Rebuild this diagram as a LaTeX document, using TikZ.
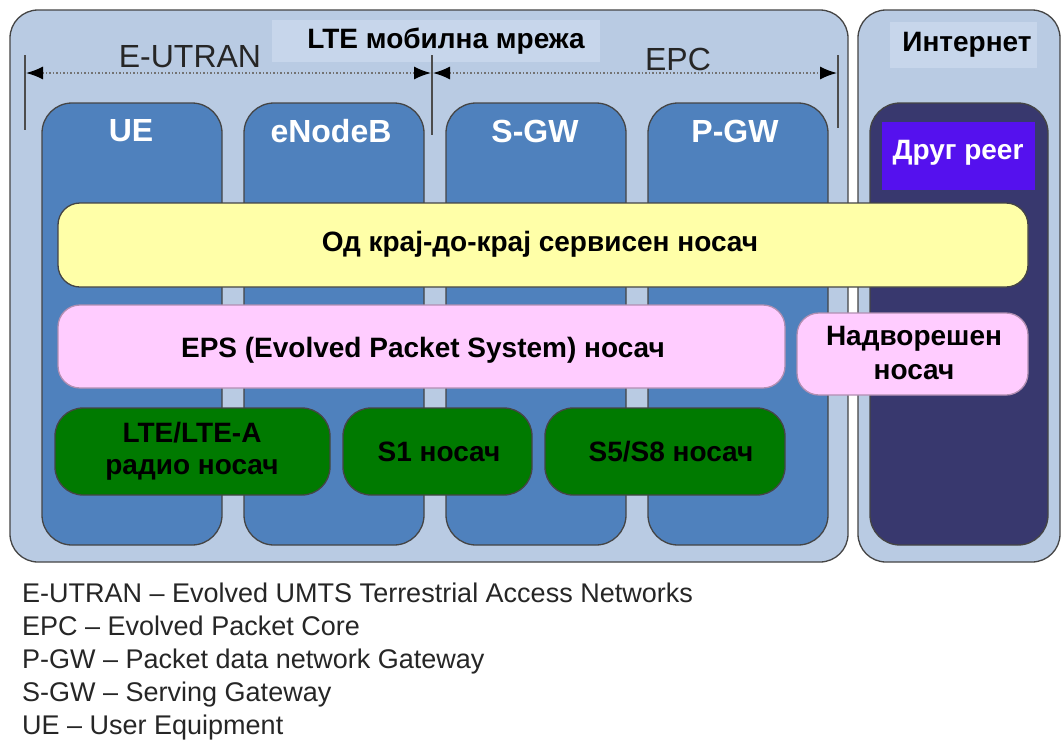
\documentclass[tikz,border=0pt]{standalone}
\usepackage{fontspec}
\setmainfont{Liberation Sans}
\usetikzlibrary{arrows.meta}
\definecolor{netbg}{HTML}{B9CBE3}
\definecolor{titlebg}{HTML}{C7D6EB}
\definecolor{colblue}{HTML}{4F81BD}
\definecolor{darknet}{HTML}{38386E}
\definecolor{peer}{HTML}{5511EE}
\definecolor{yelbar}{HTML}{FFFFA8}
\definecolor{pinkbar}{HTML}{FFCCFF}
\definecolor{greenbar}{HTML}{007A00}
\definecolor{edge}{HTML}{454545}
\newcommand\setfs[1]{\fontsize{#1}{#1}\selectfont}
\begin{document}
\begin{tikzpicture}[x=1pt,y=-1pt,
  rbox/.style={draw=edge, line width=1.3pt, inner sep=0pt, outer sep=0pt, anchor=north west},
  area/.style={rbox, fill=netbg, rounded corners=28pt},
  column/.style={rbox, fill=colblue, rounded corners=30pt},
  bar/.style={rbox, rounded corners=22pt},
  tag/.style={fill=titlebg, inner sep=0pt, outer sep=0pt, anchor=north west},
  title/.style={font=\setfs{28}\bfseries, text=black},
  coltitle/.style={font=\setfs{32}\bfseries, text=white},
  bartext/.style={font=\setfs{28}\bfseries, text=black, align=center},
  span/.style={font=\setfs{32}, text=black!85},
  tick/.style={draw=black!70, line width=1.2pt},
  dim/.style={draw=black!55, line width=1.5pt, dotted, {Latex[length=17pt,width=13pt,black]}-{Latex[length=17pt,width=13pt,black]}}
]
\useasboundingbox (0,0) rectangle (1063,740);
\fill[white] (0,0) rectangle (1063,740);

% outer areas
\node[area, minimum width=838pt, minimum height=552pt] (lte) at (10,10) {};
\node[area, minimum width=202pt, minimum height=552pt] (inet) at (858,10) {};
\node[tag, minimum width=328pt, minimum height=42pt] (ltetag) at (272,20) {};
\node[tag, minimum width=147pt, minimum height=46pt] (inettag) at (890,22) {};
\node[title] (ltetitle) at (446,41) {LTE мобилна мрежа};
\node[title] (inettitle) at (967,45) {Интернет};

% network elements
\node[column, minimum width=180pt, minimum height=442pt] (ue) at (42,103) {};
\node[column, minimum width=180pt, minimum height=442pt] (enb) at (244,103) {};
\node[column, minimum width=180pt, minimum height=442pt] (sgw) at (446,103) {};
\node[column, minimum width=180pt, minimum height=442pt] (pgw) at (648,103) {};
\node[column, fill=darknet, minimum width=178pt, minimum height=442pt] (dark) at (870,103) {};
\node[coltitle] (uet) at (131,131) {UE};
\node[coltitle] (enbt) at (331,131) {eNodeB};
\node[coltitle] (sgwt) at (535,131) {S-GW};
\node[coltitle] (pgwt) at (735,131) {P-GW};
\node[rbox, draw=none, fill=peer, minimum width=153pt, minimum height=68pt] (peerbox) at (882,122) {};
\node[coltitle, font=\setfs{28}\bfseries] (peert) at (958,153) {Друг peer};

% span markers
\coordinate (t1a) at (25,55);  \coordinate (t1b) at (25,130);
\coordinate (t2a) at (432,55); \coordinate (t2b) at (432,135);
\coordinate (t3a) at (838,55); \coordinate (t3b) at (838,128);
\draw[tick] (t1a) -- (t1b);
\draw[tick] (t2a) -- (t2b);
\draw[tick] (t3a) -- (t3b);
\coordinate (d1a) at (26,73);  \coordinate (d1b) at (431,73);
\coordinate (d2a) at (433,73); \coordinate (d2b) at (837,73);
\draw[dim] (d1a) -- (d1b);
\draw[dim] (d2a) -- (d2b);
\node[span] (eutran) at (190,57) {E-UTRAN};
\node[span] (epc) at (678,59) {EPC};

% bearers
\node[bar, fill=yelbar, minimum width=970pt, minimum height=84pt] (e2e) at (58,203) {};
\node[bartext] (e2et) at (540,244) {Од крај-до-крај сервисен носач};
\node[bar, fill=pinkbar, draw=pinkbar!70!black, minimum width=727pt, minimum height=83pt] (eps) at (58,305) {};
\node[bartext] (epst) at (423,350) {EPS (Evolved Packet System) носач};
\node[bar, fill=pinkbar, draw=pinkbar!70!black, minimum width=231pt, minimum height=82pt] (ext) at (797,313) {};
\node[bartext] (extt) at (914,353) {Надворешен\\[6pt]носач};
\node[bar, fill=greenbar, rounded corners=28pt, minimum width=275pt, minimum height=87pt] (radio) at (55,408) {};
\node[bartext] (radiot) at (192,451) {LTE/LTE-A\\[4pt]радио носач};
\node[bar, fill=greenbar, rounded corners=28pt, minimum width=189pt, minimum height=87pt] (s1) at (343,408) {};
\node[bartext] (s1t) at (439,452) {S1 носач};
\node[bar, fill=greenbar, rounded corners=28pt, minimum width=240pt, minimum height=87pt] (s5) at (545,408) {};
\node[bartext] (s5t) at (671,452) {S5/S8 носач};

% abbreviations
\node[anchor=north west, align=left, inner sep=0pt, text=black!85,
      font=\setfs{27}, execute at begin node={\setlength{\baselineskip}{33pt}}] (legend) at (22,583)
  {E-UTRAN – Evolved UMTS Terrestrial Access Networks\\
   EPC – Evolved Packet Core\\
   P-GW – Packet data network Gateway\\
   S-GW – Serving Gateway\\
   UE – User Equipment};
\end{tikzpicture}
\end{document}
